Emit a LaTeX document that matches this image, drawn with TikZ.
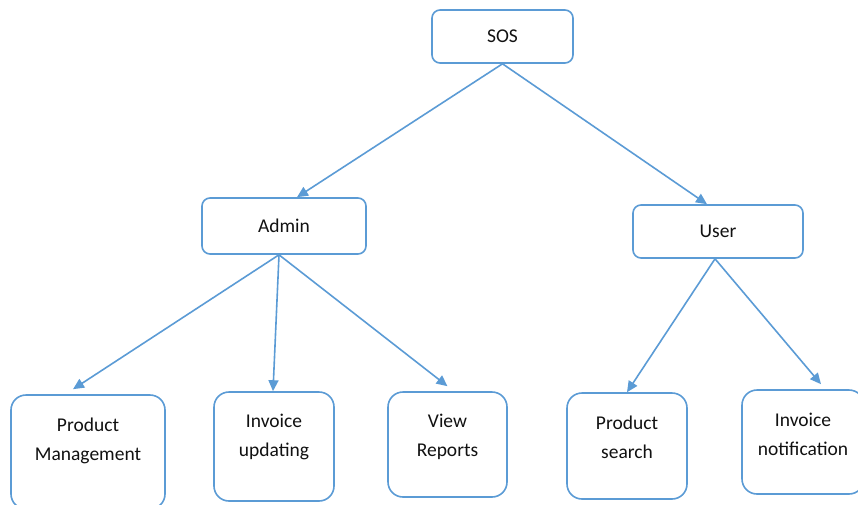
\documentclass[tikz,border=0pt]{standalone}
\usepackage{fontspec}
\setmainfont{Carlito}
\usetikzlibrary{arrows.meta,calc}
\definecolor{boxblue}{HTML}{5B9BD5}
\definecolor{txt}{HTML}{111111}
\tikzset{
  topbox/.style={draw=boxblue, line width=1.6pt, rounded corners=8pt, fill=white,
    inner sep=0pt, text=txt, font=\fontsize{19.5}{22}\selectfont},
  leafbox/.style={draw=boxblue, line width=1.6pt, rounded corners=15pt, fill=white,
    inner sep=0pt},
  leaftext/.style={text=txt, align=center, inner sep=0pt,
    font=\fontsize{19.5}{29}\selectfont},
  link/.style={draw=boxblue, line width=1.6pt,
    -{Triangle[length=11pt,width=10pt]}}
}
\begin{document}
\begin{tikzpicture}[x=1pt,y=-1pt]
  \useasboundingbox (0,0) rectangle (858,504);
  \begin{scope}
    \clip (0,0) rectangle (858,504);
    % upper levels
    \node[topbox, minimum width=141pt, minimum height=53pt] (sos) at (502.5,36.5) {SOS};
    \node[topbox, minimum width=164pt, minimum height=56pt] (admin) at (284,226) {Admin};
    \node[topbox, minimum width=170pt, minimum height=53pt] (user) at (718,231.5) {User};
    % leaves
    \node[leafbox, minimum width=154pt, minimum height=114pt] (pm) at (88,452) {};
    \node[leafbox, minimum width=120pt, minimum height=109pt] (iu) at (274,446.5) {};
    \node[leafbox, minimum width=119pt, minimum height=105pt] (vr) at (447.5,444.5) {};
    \node[leafbox, minimum width=120pt, minimum height=106pt] (ps) at (627,446) {};
    \node[leafbox, minimum width=122pt, minimum height=104pt] (inv) at (803,442) {};
    \node[leaftext] (pmt) at (88,441) {Product\\Management};
    \node[leaftext] (iut) at (274,437) {Invoice\\updating};
    \node[leaftext] (vrt) at (447.5,437) {View\\Reports};
    \node[leaftext] (pst) at (627,437.5) {Product\\search};
    \node[leaftext] (invt) at (803,434.5) {Invoice\\notification};
    % connectors
    \draw[link] (sos.south) -- ([xshift=13pt]admin.north);
    \draw[link] (sos.south) -- ([xshift=-11pt]user.north);
    \draw[link] ([xshift=-5pt]admin.south) -- ([xshift=-15pt,yshift=5pt]pm.north);
    \draw[link] ([xshift=-5pt]admin.south) -- ([xshift=-1pt]iu.north);
    \draw[link] ([xshift=-5pt]admin.south) -- ([yshift=5pt]vr.north);
    \draw[link] ([xshift=-3pt]user.south) -- (ps.north);
    \draw[link] ([xshift=-3pt]user.south) -- ([xshift=18pt,yshift=5pt]inv.north);
  \end{scope}
\end{tikzpicture}
\end{document}
